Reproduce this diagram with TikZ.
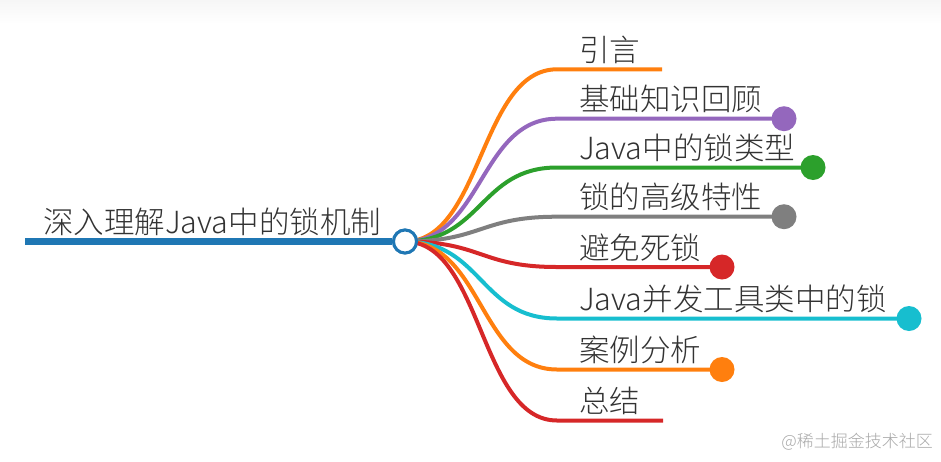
\documentclass[tikz,border=0pt]{standalone}
\usepackage{fontspec}
\IfFontExistsTF{Noto Sans CJK SC Light}{\newfontfamily\cjk{Noto Sans CJK SC Light}}{\IfFontExistsTF{Noto Sans CJK SC DemiLight}{\newfontfamily\cjk{Noto Sans CJK SC DemiLight}}{\newfontfamily\cjk{Noto Sans CJK SC}}}
\definecolor{cblue}{HTML}{1F77B4}
\definecolor{corange}{HTML}{FF7F0E}
\definecolor{cpurple}{HTML}{9467BD}
\definecolor{cgreen}{HTML}{2CA02C}
\definecolor{cgray}{HTML}{7F7F7F}
\definecolor{cred}{HTML}{D62728}
\definecolor{ccyan}{HTML}{17BECF}
\definecolor{ctext}{HTML}{333333}
\definecolor{cmark}{HTML}{A8A8A8}
\definecolor{cband}{HTML}{F6F6F6}
\tikzset{
  lbl/.style={anchor=base west, inner sep=0pt, text=ctext, font=\cjk\fontsize{30.5}{36}\selectfont},
  branch/.style={line width=4pt, line cap=butt},
  enddot/.style={circle, fill=#1, draw=none, minimum size=25pt, inner sep=0pt},
  rootdot/.style={circle, draw=cblue, line width=3pt, fill=white, minimum size=23pt, inner sep=0pt},
}
\begin{document}
\begin{tikzpicture}[x=1pt,y=-1pt]
\useasboundingbox (0,0) rectangle (941,461);
\shade[top color=cband, bottom color=white] (0,0) rectangle (941,24);
% root
\coordinate (rs) at (25,241.5);
\node[rootdot] (root) at (405,241.5) {};
% children coordinates
\foreach \i/\y/\e in {1/69.3/662, 2/118.7/784, 3/167.5/813, 4/216.7/784, 5/267/722, 6/318.5/909, 7/369.5/722, 8/420.5/663}{
  \coordinate (s\i) at (557,\y);
  \coordinate (e\i) at (\e,\y);
}
\foreach \i/\c in {1/corange, 2/cpurple, 3/cgreen, 4/cgray, 5/cred, 6/ccyan, 7/corange, 8/cred}{
  \draw[branch, \c] (root.center) .. controls +(77,0) and +(-77,0) .. (s\i) -- (e\i);
}
\draw[cblue, line width=7pt] (rs) -- (root.west);
\node[rootdot] (rootc) at (root.center) {};
% dots
\node[enddot=cpurple] (d2) at (e2) {};
\node[enddot=cgreen] (d3) at (e3) {};
\node[enddot=cgray] (d4) at (e4) {};
\node[enddot=cred] (d5) at (e5) {};
\node[enddot=ccyan] (d6) at (e6) {};
\node[enddot=corange] (d7) at (e7) {};
% labels
\node[lbl] (t0) at (43,233) {深入理解Java中的锁机制};
\node[lbl] (t1) at (579,61.3) {引言};
\node[lbl] (t2) at (579,110.7) {基础知识回顾};
\node[lbl] (t3) at (579,159.5) {Java中的锁类型};
\node[lbl] (t4) at (579,208.7) {锁的高级特性};
\node[lbl] (t5) at (579,259) {避免死锁};
\node[lbl] (t6) at (579,310.5) {Java并发工具类中的锁};
\node[lbl] (t7) at (579,361.5) {案例分析};
\node[lbl] (t8) at (579,412.5) {总结};
% watermark
\node[anchor=east, inner sep=0pt, text=cmark, font=\cjk\fontsize{17}{20}\selectfont] (wm) at (933,442) {@稀土掘金技术社区};
\end{tikzpicture}
\end{document}
